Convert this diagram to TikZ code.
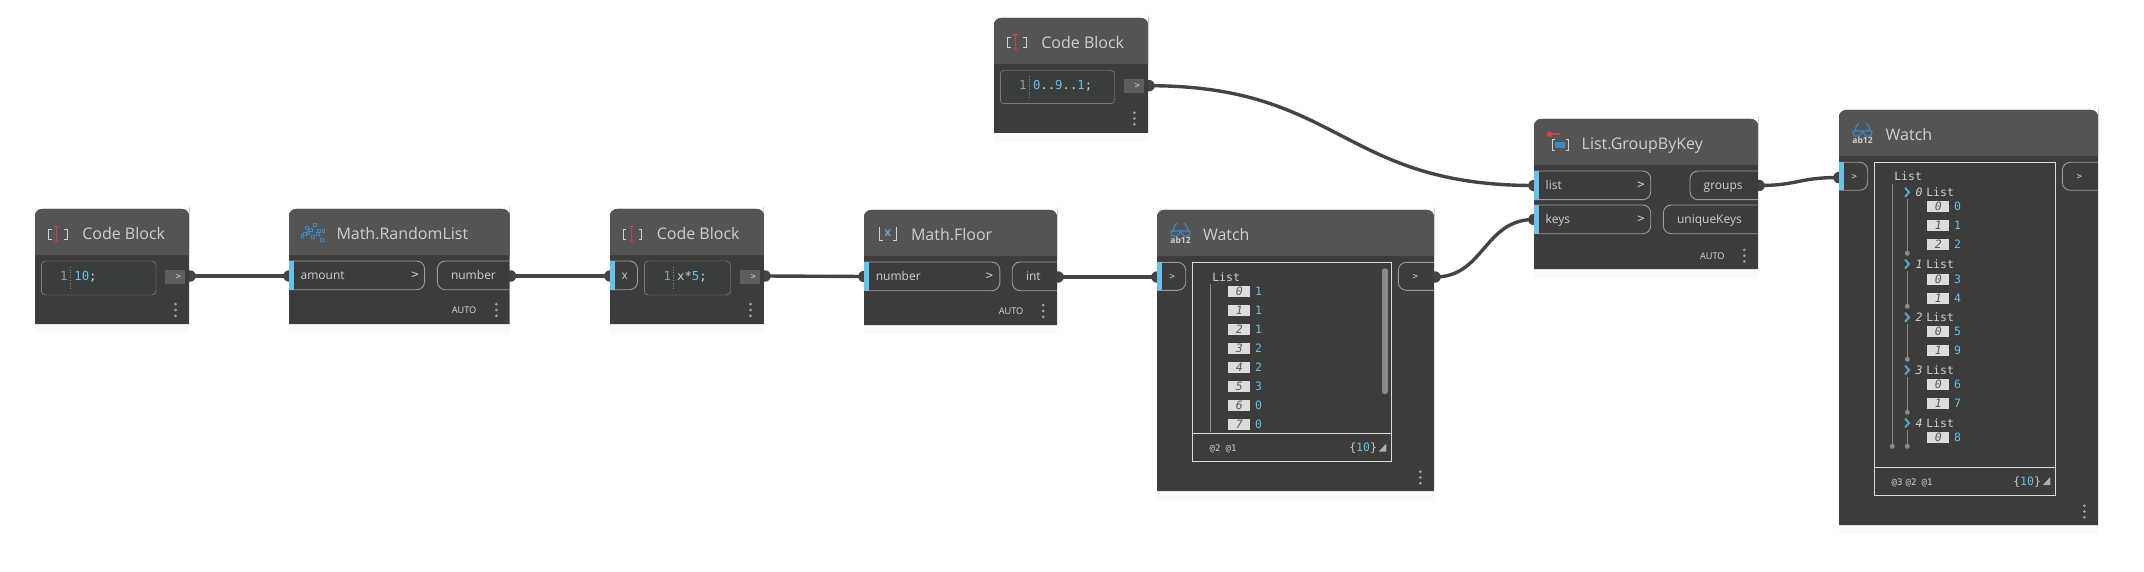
\documentclass[tikz,border=0pt]{standalone}
\usepackage{fontspec}
\setmainfont{Open Sans}
\newfontfamily\monof{DejaVu Sans Mono}
\definecolor{hdr}{HTML}{545454}
\definecolor{bodyc}{HTML}{3C3C3C}
\definecolor{wirec}{HTML}{444444}
\definecolor{bluec}{HTML}{6AC0E7}
\definecolor{iconb}{HTML}{3F86C4}
\definecolor{iconr}{HTML}{C04848}
\definecolor{titlec}{HTML}{CFCFCF}
\definecolor{pillc}{HTML}{9A9A9A}
\definecolor{dotc}{HTML}{A0A0A0}
\definecolor{idxc}{HTML}{DCDCDC}
\definecolor{linec}{HTML}{8A8A8A}
\definecolor{edc}{HTML}{3A3D3D}
\tikzset{
  tipn/.style={circle,fill=wirec,inner sep=0pt,minimum size=11.5pt},
  wire/.style={draw=wirec,line width=3.4pt},
  bodyn/.style={fill=bodyc,inner sep=0pt,outer sep=0pt},
  txt/.style={inner sep=0pt,outer sep=0pt,anchor=west},
  titlen/.style={txt,text=titlec,font=\fontsize{16}{18}\selectfont,text height=14pt,text depth=2pt},
  portn/.style={txt,text=titlec,font=\fontsize{12}{14}\selectfont,text height=10.5pt,text depth=2pt},
  chevn/.style={inner sep=0pt,text=titlec,font=\monof\fontsize{12}{12}\selectfont,text height=8pt,text depth=1pt},
  chevs/.style={inner sep=0pt,text=titlec,font=\monof\fontsize{9}{10}\selectfont,text height=7pt,text depth=1pt},
  auton/.style={txt,text=idxc,font=\fontsize{9.2}{10}\selectfont,text height=8pt,text depth=1pt},
  mono/.style={txt,font=\monof\fontsize{11.5}{12}\selectfont,text height=9pt,text depth=1pt},
  coden/.style={txt,font=\monof\fontsize{12.3}{13}\selectfont,text height=9pt,text depth=1pt},
  monos/.style={txt,text=titlec,font=\monof\fontsize{9}{10}\selectfont,text height=7pt,text depth=1pt},
  idxbox/.style={fill=idxc,inner sep=0pt,minimum width=22pt,minimum height=11pt,text=black!65,font=\monof\itshape\fontsize{11.5}{12}\selectfont,text height=8.5pt,text depth=0pt},
  pill/.style={draw=pillc,line width=0.9pt},
  frame/.style={draw=idxc,line width=1pt},
  tree/.style={draw=linec,line width=0.8pt},
}
% name x1 y1 x2 y2 ybar title titlex
\newcommand{\dynnode}[8]{%
  \fill[white!98!black] (#2,#5) rectangle (#4,#5+9);
  \path[bodyn,rounded corners=7pt] (#2,#5) [sharp corners] -- (#2,#3+5) [rounded corners=7pt] -- (#2,#3) -- (#4,#3) -- (#4,#3+5) [sharp corners] -- (#4,#5) -- cycle;
  \fill[hdr,rounded corners=7pt] (#2,#6) [sharp corners] -- (#2,#3+5) [rounded corners=7pt] -- (#2,#3) -- (#4,#3) -- (#4,#3+5) [sharp corners] -- (#4,#6) -- cycle;
  \node[titlen] (#1) at (#8,{(#3+#6)/2+1.2}) {#7};
}
% name x1 x2 y1 y2 label labelx chevx
\newcommand{\inpill}[8]{%
  \draw[pill] (#2,#4) [rounded corners=8pt] -- (#3,#4) -- (#3,#5) [sharp corners] -- (#2,#5);
  \fill[bluec] (#2,#4) rectangle (#2+5,#5);
  \node[portn] (#1) at (#7,{(#4+#5)/2}) {#6};
  \node[chevn] (#1c) at (#8,{(#4+#5)/2}) {>};
}
% name x1 x2 y1 y2 label labelx
\newcommand{\outpill}[7]{%
  \draw[pill] (#3,#4) [rounded corners=8pt] -- (#2,#4) -- (#2,#5) [sharp corners] -- (#3,#5);
  \node[portn] (#1) at (#7,{(#4+#5)/2}) {#6};
}
\newcommand{\menudots}[3]{%
  \fill[dotc] (#2,#3-5.8) circle (1.5pt) (#2,#3) circle (1.5pt) (#2,#3+5.8) circle (1.5pt);
}
\newcommand{\autolabel}[3]{\node[auton] (#1) at (#2,#3) {AUTO};}
% x y = top left
\newcommand{\cbicon}[2]{%
  \draw[titlec,line width=1pt] (#1+3,#2+2.5) -- (#1,#2+2.5) -- (#1,#2+12.5) -- (#1+3,#2+12.5);
  \draw[titlec,line width=1pt] (#1+15.5,#2+2.5) -- (#1+18.5,#2+2.5) -- (#1+18.5,#2+12.5) -- (#1+15.5,#2+12.5);
  \draw[iconr,line width=1.2pt] (#1+8,#2) -- (#1+8,#2+14.5) (#1+5.5,#2) -- (#1+10.5,#2) (#1+5.5,#2+14.5) -- (#1+10.5,#2+14.5);
}
\newcommand{\watchicon}[3]{%
  \draw[iconb,line width=1.2pt] (#2+2.5,#3+8.5) .. controls (#2+2.5,#3+4) and (#2+4,#3+2) .. (#2+6,#3+0.5)
     (#2+16.5,#3+8.5) .. controls (#2+16.5,#3+4) and (#2+15,#3+2) .. (#2+13,#3+0.5)
     (#2,#3+8.5) -- (#2+19,#3+8.5) -- (#2+18,#3+13.5) -- (#2+13,#3+13.5) -- (#2+9.5,#3+9.5) -- (#2+6,#3+13.5) -- (#2+1,#3+13.5) -- cycle;
  \node[inner sep=0pt,text=titlec,font=\bfseries\fontsize{8.5}{9}\selectfont] (#1) at (#2+9.5,#3+18) {ab12};
}
\newcommand{\wrow}[5]{%
  \node[idxbox,anchor=west] (#1i) at (#5,#2) {#3};
  \node[mono,text=bluec] (#1v) at (#5+27,#2) {#4};
}
\newcommand{\wlist}[3]{%
  \draw[bluec!85!black,line width=2pt] (1905,#2-4.5) -- (1909,#2) -- (1905,#2+4.5);
  \node[mono,text=titlec,font=\monof\itshape\fontsize{11.5}{12}\selectfont,anchor=center] (#1i) at (1919,#2) {#3};
  \node[mono,text=titlec] (#1l) at (1926.3,#2) {List};
}
\newcommand{\countlabel}[3]{%
  \node[mono,text=titlec] (#3) at (#1,#2) {\{\textcolor{bluec}{10}\}};
  \fill[titlec!85!black] (#1+37,#2-4) -- (#1+37,#2+4) -- (#1+29.5,#2+4) -- cycle;
}
\begin{document}
\begin{tikzpicture}[x=1pt,y=-1pt]
\useasboundingbox (0,0) rectangle (2144,572);
% connector ends
\node[tipn] (cAo) at (190,276) {};
\node[tipn] (rIn) at (289,276) {};
\node[tipn] (rOu) at (510.5,276) {};
\node[tipn] (cBi) at (610,276) {};
\node[tipn] (cBo) at (765,276) {};
\node[tipn] (fIn) at (864,276.5) {};
\node[tipn] (fOu) at (1058,277) {};
\node[tipn] (wAi) at (1157,277) {};
\node[tipn] (wAo) at (1435,277) {};
\node[tipn] (gKe) at (1534,219.5) {};
\node[tipn] (cTo) at (1149,85.7) {};
\node[tipn] (gLi) at (1534,185.5) {};
\node[tipn] (gOu) at (1759,185.5) {};
\node[tipn] (wBi) at (1839,177.5) {};
% connectors
\draw[wire] (cAo.center) -- (rIn.center);
\draw[wire] (rOu.center) -- (cBi.center);
\draw[wire] (cBo.center) -- (fIn.center);
\draw[wire] (fOu.center) -- (wAi.center);
\draw[wire] (wAo.center) .. controls (1484,277) and (1484,219.5) .. (gKe.center);
\draw[wire] (cTo.center) .. controls (1341,85.7) and (1341,185.5) .. (gLi.center);
\draw[wire] (gOu.center) .. controls (1798,185.5) and (1798,177.5) .. (wBi.center);

% Code Block 1
\dynnode{cA}{35}{209}{189}{324}{255}{Code Block}{82.3}
\cbicon{48.7}{226.7}
\draw[pillc,rounded corners=4pt,fill=bodyc] (41.3,261) rectangle (156,295);
\fill[edc] (52,267) rectangle (145,290);
\node[coden,text=titlec!75!black,anchor=east] (cAn) at (67.5,276) {1};
\draw[linec,dotted,line width=0.6pt] (70.6,267) -- (70.6,289);
\node[coden,text=titlec] (cAc) at (74.4,276) {\textcolor{bluec}{10};};
\fill[black!63] (165,270) rectangle (185,283.7);
\node[chevs] (cAg) at (178.4,276.7) {>};
\menudots{cAd}{175.5}{310}

% Math.RandomList
\dynnode{rL}{289}{209}{509.7}{324}{255}{Math.RandomList}{336.5}
\foreach \ax/\ay in {315/225,306.7/228,311/230,319/231,323.3/230.7,302.3/235.7,305/234,308.3/233.3,313/236.7,317.7/234.3,321.7/239.7}{
  \draw[iconb,line width=0.8pt] (\ax-1.3,\ay-1.5) rectangle (\ax+1.3,\ay+1.5);
}
\inpill{rAm}{289}{424.6}{261}{289.7}{amount}{300.6}{415}
\outpill{rNu}{437.4}{509.7}{261}{289.7}{number}{451}
\autolabel{rAu}{451.8}{310}
\menudots{rLd}{496.3}{310}

% Code Block 2
\dynnode{cB}{610}{209}{763.9}{324}{255}{Code Block}{656.8}
\cbicon{623.4}{226.7}
\draw[pill] (610,261) [rounded corners=8pt] -- (637.5,261) -- (637.5,289.7) [sharp corners] -- (610,289.7);
\fill[bluec] (610,261) rectangle (615,289.7);
\node[portn,anchor=center] (cBx) at (624.8,275.5) {x};
\draw[pillc,rounded corners=4pt,fill=bodyc] (644.4,261) rectangle (730.5,295);
\fill[edc] (655,267) rectangle (720,290);
\node[coden,text=titlec!75!black,anchor=east] (cBn) at (671,276) {1};
\draw[linec,dotted,line width=0.6pt] (673.7,267) -- (673.7,289);
\node[coden,text=titlec] (cBc) at (677.1,276) {x*\textcolor{bluec}{5};};
\fill[black!63] (740.2,270) rectangle (760.1,283.7);
\node[chevs] (cBg) at (753.2,276.7) {>};
\menudots{cBd}{750.5}{310}

% Math.Floor
\dynnode{fL}{864}{210}{1057}{325}{256}{Math.Floor}{911}
\draw[titlec,line width=1pt] (879.5,226.7) -- (879.5,240.5) -- (883,240.5) (896.5,226.7) -- (896.5,240.5) -- (893,240.5);
\node[inner sep=0pt,text=iconb!70!titlec,font=\bfseries\fontsize{12}{12}\selectfont] (fIc) at (887.8,233) {x};
\inpill{fNu}{864}{999.8}{262}{290.7}{number}{875.8}{989.5}
\outpill{fIt}{1012.2}{1057}{262}{290.7}{int}{1026}
\autolabel{fAu}{998.8}{311}
\menudots{fLd}{1043.2}{311}

% Watch 1
\dynnode{wA}{1157}{210}{1434}{491}{256}{Watch}{1203}
\watchicon{wAc}{1171}{222.5}
\draw[pill] (1157,262.3) [rounded corners=8pt] -- (1185.7,262.3) -- (1185.7,290.3) [sharp corners] -- (1157,290.3);
\fill[bluec] (1157,262.3) rectangle (1162,290.3);
\node[chevs] (wAg) at (1172.3,276.5) {>};
\draw[pill] (1434,262.3) [rounded corners=8pt] -- (1398.3,262.3) -- (1398.3,290.3) [sharp corners] -- (1434,290.3);
\node[chevs] (wAh) at (1415.3,276.5) {>};
\draw[frame] (1192.3,262.3) rectangle (1391.7,461.7);
\draw[frame] (1192.3,433.3) -- (1391.7,433.3);
\node[mono,text=titlec] (wAl) at (1212.3,277) {List};
\draw[tree] (1210.3,284) -- (1210.3,431.7);
\wrow{wA0}{291.7}{0}{1}{1228}
\wrow{wA1}{310.7}{1}{1}{1228}
\wrow{wA2}{329.7}{2}{1}{1228}
\wrow{wA3}{348.7}{3}{2}{1228}
\wrow{wA4}{367.7}{4}{2}{1228}
\wrow{wA5}{386.7}{5}{3}{1228}
\wrow{wA6}{405.7}{6}{0}{1228}
\wrow{wA7}{424.7}{7}{0}{1228}
\fill[linec,rounded corners=2.5pt] (1382,268.3) rectangle (1388,394);
\node[monos] (wAa) at (1209.7,448.3) {@2};
\node[monos] (wAb) at (1225.7,448.3) {@1};
\countlabel{1349.3}{447.5}{wAn}
\menudots{wAd}{1420.3}{477.5}

% Code Block top
\dynnode{cT}{994}{18}{1148}{133}{64}{Code Block}{1041.3}
\cbicon{1007.5}{35}
\draw[pillc,rounded corners=4pt,fill=bodyc] (1000.3,70.3) rectangle (1114.7,103.7);
\fill[edc] (1011,76) rectangle (1104,99);
\node[coden,text=titlec!75!black,anchor=east] (cTn) at (1026.5,85.5) {1};
\draw[linec,dotted,line width=0.6pt] (1029.7,76) -- (1029.7,98);
\node[coden,text=bluec] (cTc) at (1033,85.5) {0\textcolor{titlec}{..}9\textcolor{titlec}{..}1\textcolor{titlec}{;}};
\fill[black!63] (1124,79.3) rectangle (1144,92.7);
\node[chevs] (cTg) at (1137.3,86) {>};
\menudots{cTd}{1134.3}{118.5}

% List.GroupByKey
\dynnode{gK}{1534}{119}{1758}{269}{165}{List.GroupByKey}{1581.7}
\draw[iconr,line width=1.6pt] (1550,134.3) -- (1559.7,134.3);
\fill[iconr] (1549.5,134.3) circle (3pt);
\draw[titlec,line width=1pt] (1555,139.7) -- (1552.5,139.7) -- (1552.5,150.7) -- (1555,150.7) (1565.5,139.7) -- (1568,139.7) -- (1568,150.7) -- (1565.5,150.7);
\fill[iconb] (1555.3,142) rectangle (1564.7,147.7);
\inpill{gLs}{1534}{1650.7}{171}{199.7}{list}{1545.7}{1641}
\inpill{gKy}{1534}{1650.7}{205}{233.7}{keys}{1545.7}{1641}
\outpill{gGr}{1690}{1758}{171}{199.7}{groups}{1703.7}
\outpill{gUk}{1663.3}{1758}{205}{233.7}{uniqueKeys}{1677}
\autolabel{gAu}{1700}{255.7}
\menudots{gKd}{1744.3}{255.7}

% Watch 2
\dynnode{wB}{1839}{110}{2098}{525}{156}{Watch}{1885.7}
\watchicon{wBc}{1853}{122.5}
\draw[pill] (1839,162.3) [rounded corners=8pt] -- (1867.7,162.3) -- (1867.7,190.3) [sharp corners] -- (1839,190.3);
\fill[bluec] (1839,162.3) rectangle (1844,190.3);
\node[chevs] (wBg) at (1854.3,176.5) {>};
\draw[pill] (2098,162.3) [rounded corners=8pt] -- (2062.3,162.3) -- (2062.3,190.3) [sharp corners] -- (2098,190.3);
\node[chevs] (wBh) at (2079.3,176.5) {>};
\draw[frame] (1874.3,162.3) rectangle (2055.7,495.3);
\draw[frame] (1874.3,467.3) -- (2055.7,467.3);
\node[mono,text=titlec] (wBl) at (1894.3,177) {List};
\draw[tree] (1892.3,184) -- (1892.3,446.3);
\fill[linec] (1892.3,446.3) circle (2.5pt);
\wlist{g0}{192.3}{0}
\wrow{g00}{206.7}{0}{0}{1927}
\wrow{g01}{225.7}{1}{1}{1927}
\wrow{g02}{244.7}{2}{2}{1927}
\draw[tree] (1907.3,199.3) -- (1907.3,253.3);
\fill[linec] (1907.3,253.3) circle (2.5pt);
\wlist{g1}{264}{1}
\wrow{g10}{279}{0}{3}{1927}
\wrow{g11}{298}{1}{4}{1927}
\draw[tree] (1907.3,271) -- (1907.3,306.3);
\fill[linec] (1907.3,306.3) circle (2.5pt);
\wlist{g2}{317.3}{2}
\wrow{g20}{331.3}{0}{5}{1927}
\wrow{g21}{350.7}{1}{9}{1927}
\draw[tree] (1907.3,324) -- (1907.3,359.3);
\fill[linec] (1907.3,359.3) circle (2.5pt);
\wlist{g3}{370}{3}
\wrow{g30}{384.7}{0}{6}{1927}
\wrow{g31}{403.7}{1}{7}{1927}
\draw[tree] (1907.3,376.7) -- (1907.3,412.3);
\fill[linec] (1907.3,412.3) circle (2.5pt);
\wlist{g4}{423}{4}
\wrow{g40}{437.7}{0}{8}{1927}
\draw[tree] (1907.3,430) -- (1907.3,446.3);
\fill[linec] (1907.3,446.3) circle (2.5pt);
\node[monos] (wBa) at (1891.7,482) {@3};
\node[monos] (wBb) at (1905.7,482) {@2};
\node[monos] (wBe) at (1921.7,482) {@1};
\countlabel{2013.3}{481}{wBn}
\menudots{wBd}{2084.3}{511.5}
\end{tikzpicture}
\end{document}
